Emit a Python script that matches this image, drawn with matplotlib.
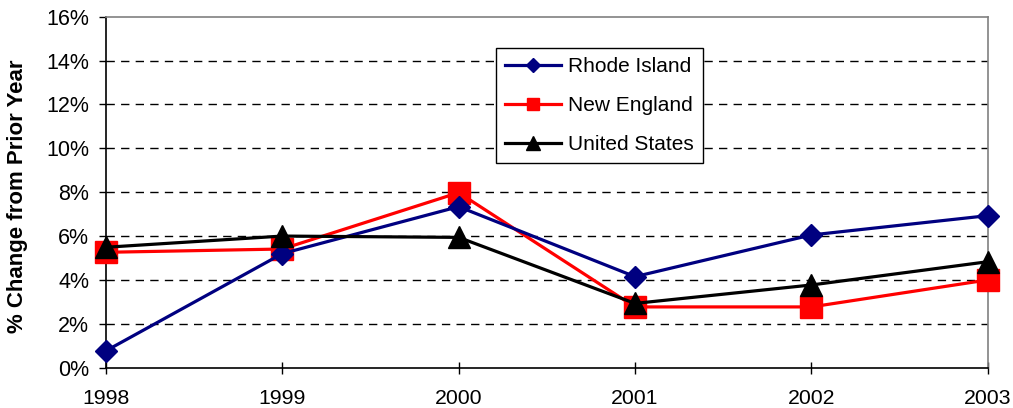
import matplotlib
matplotlib.use("Agg")
import matplotlib.pyplot as plt
from matplotlib.lines import Line2D
from matplotlib.ticker import FuncFormatter

plt.rcParams['font.family'] = ['Liberation Sans', 'DejaVu Sans']

years = ['1998', '1999', '2000', '2001', '2002', '2003']
rhode_island = [0.77, 5.2, 7.34, 4.15, 6.05, 6.93]
new_england = [5.26, 5.41, 7.98, 2.77, 2.77, 4.0]
united_states = [5.49, 6.0, 5.94, 2.93, 3.77, 4.83]

series_names = ['Rhode Island', 'New England', 'United States']

fig = plt.figure(figsize=(10.13, 4.08), dpi=100)
ax = fig.add_axes([0.1046, 0.0988, 0.8704, 0.8603])

x = list(range(len(years)))
navy = '#000080'
red = '#FF0000'
black = '#000000'

ax.plot(x, rhode_island, color=navy, lw=2.3, marker='D', markersize=11.5, clip_on=False, zorder=4)
ax.plot(x, new_england, color=red, lw=2.3, marker='s', markersize=15.5, clip_on=False, zorder=3)
ax.plot(x, united_states, color=black, lw=2.3, marker='^', markersize=16, clip_on=False, zorder=5)

ax.set_xlim(0, 5)
ax.set_ylim(0, 16)
ax.set_xticks(x)
ax.set_xticklabels(years)
ax.set_yticks(range(0, 17, 2))
ax.yaxis.set_major_formatter(FuncFormatter(lambda v, p: f"{int(v)}%"))

for yv in range(2, 16, 2):
    ax.axhline(yv, color='black', lw=1.0, ls=(0, (6, 4.5)), zorder=1)

for s in ['top', 'right']:
    ax.spines[s].set_color('#808080')
    ax.spines[s].set_linewidth(1.2)
for s in ['left', 'bottom']:
    ax.spines[s].set_color('black')
    ax.spines[s].set_linewidth(1.2)

ax.tick_params(axis='x', direction='inout', length=9, width=1, labelsize=15.3, pad=10.5)
ax.tick_params(axis='y', direction='out', length=5, width=1, labelsize=15.5, pad=7)

ax.set_ylabel('% Change from Prior Year', fontsize=16, fontweight='bold')
ax.yaxis.set_label_coords(-0.088, 0.488)

handles = [
    Line2D([], [], color=navy, lw=2.3, marker='D', markersize=7),
    Line2D([], [], color=red, lw=2.3, marker='s', markersize=9),
    Line2D([], [], color=black, lw=2.3, marker='^', markersize=10),
]
leg = ax.legend(handles, series_names, loc='upper left', bbox_to_anchor=(0.442, 0.911),
                fontsize=15, frameon=True, fancybox=False, edgecolor='black',
                handlelength=2.7, handletextpad=0.3, labelspacing=0.95,
                borderpad=0.45, borderaxespad=0.0, framealpha=1)
leg.get_frame().set_linewidth(1.0)

fig.savefig('out.png', dpi=100)
